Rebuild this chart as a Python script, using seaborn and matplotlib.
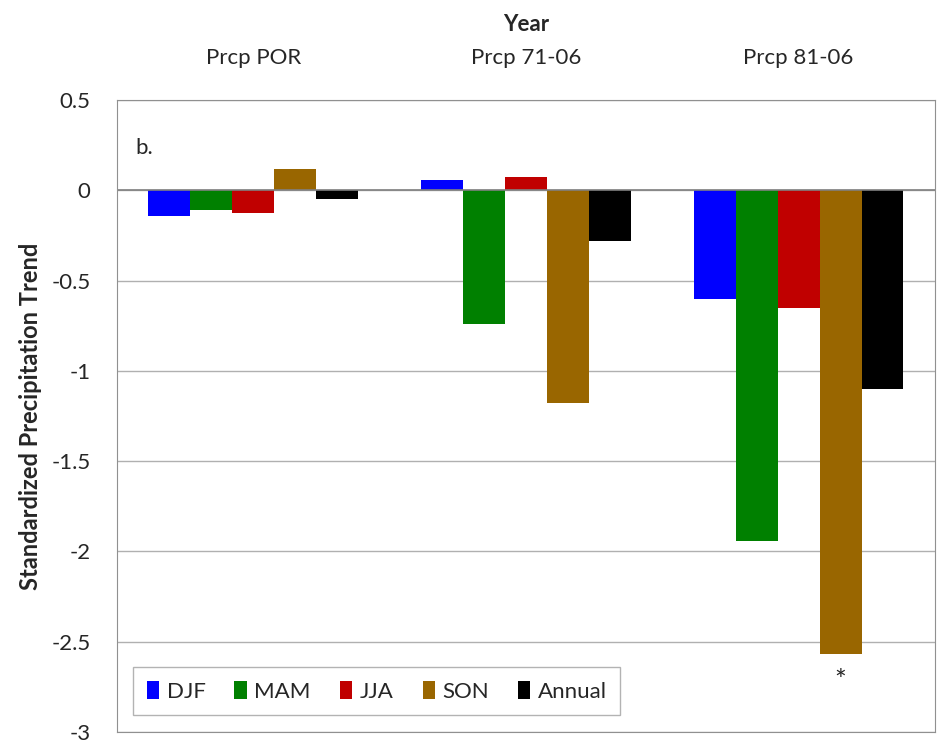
import pandas as pd
import numpy as np
import matplotlib.pyplot as plt
import seaborn as sns

periods = ["Prcp POR", "Prcp 71-06", "Prcp 81-06"]
seasons = ["DJF", "MAM", "JJA", "SON", "Annual"]
djf = [-0.14, 0.055, -0.60]
mam = [-0.11, -0.74, -1.94]
jja = [-0.125, 0.075, -0.65]
son = [0.12, -1.18, -2.57]
annual = [-0.05, -0.28, -1.10]
colors = ["#0000FF", "#008000", "#C00000", "#996600", "#000000"]

rows = []
for s, vals in zip(seasons, [djf, mam, jja, son, annual]):
    for p, v in zip(periods, vals):
        rows.append({"Period": p, "Season": s, "Trend": v})
df = pd.DataFrame(rows)

sns.set_style("white")
plt.rcParams["font.family"] = ["Lato", "DejaVu Sans"]

fig = plt.figure(figsize=(9.4, 7.44), dpi=100)
ax = fig.add_axes([0.1245, 0.016, 0.87, 0.8496])
bw = 0.77
sns.barplot(data=df, x="Period", y="Trend", hue="Season", order=periods,
            hue_order=seasons, palette=colors, width=bw, saturation=1,
            edgecolor="none", ax=ax)

ax.set_ylim(-3, 0.5)
ax.set_yticks(np.arange(-3, 0.51, 0.5))
ax.set_yticklabels(["-3", "-2.5", "-2", "-1.5", "-1", "-0.5", "0", "0.5"], fontsize=16)
ax.yaxis.grid(True, color="#b0b0b0", linewidth=1)
ax.set_axisbelow(True)
ax.axhline(0, color="#808080", linewidth=1.2, zorder=1)
ax.tick_params(axis="y", length=0, pad=19)
ax.xaxis.tick_top()
ax.xaxis.set_label_position("top")
ax.tick_params(axis="x", length=0, pad=23, labelsize=16)
ax.set_xlabel("Year", fontsize=16, fontweight="bold", labelpad=12)
ax.set_ylabel("Standardized Precipitation Trend", fontsize=17, fontweight="bold")
ax.yaxis.set_label_coords(-0.092, 0.5)
for sp in ax.spines.values():
    sp.set_color("#909090")

ax.text(0.022, 0.915, "b.", transform=ax.transAxes, fontsize=16)
ax.text(2 + bw / 5, -2.72, "*", ha="center", va="center", fontsize=20)

ax.legend(loc="lower left", bbox_to_anchor=(0.02, 0.027), borderaxespad=0, ncol=5,
          fontsize=16, frameon=True, fancybox=False, edgecolor="#a0a0a0",
          handlelength=0.55, handleheight=0.9, handletextpad=0.35,
          columnspacing=1.3, borderpad=0.6)

fig.savefig("out.png", dpi=100)
